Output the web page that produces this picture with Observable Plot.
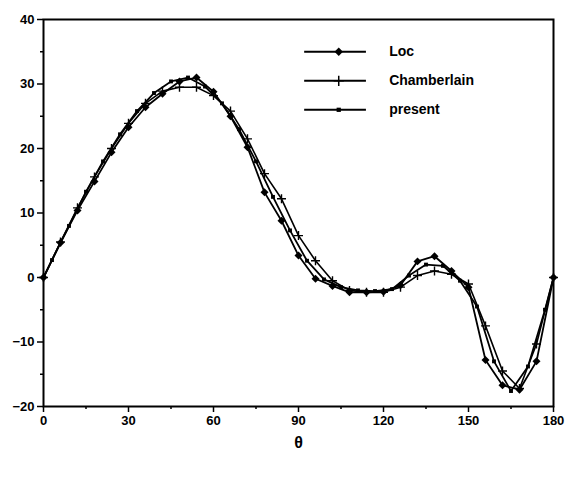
<!DOCTYPE html>
<html><head><meta charset="utf-8">
<script src="https://cdn.jsdelivr.net/npm/d3@7"></script>
<script src="https://cdn.jsdelivr.net/npm/@observablehq/plot@0.6"></script>
<style>
body{margin:0;background:#fff;}
#chart{width:568px;height:483px;}
</style></head><body><div id="chart"></div>
<script>
const seriesNames = ["Loc", "Chamberlain", "present"];
const axisTitle = "θ";

const locTheta = [0,6,12,18,24,30,36,42,48,54,60,66,72,78,84,90,96,102,108,114,120,126,132,138,144,150,156,162,168,174,180];
const locValues = [0,5.4,10.4,14.9,19.4,23.3,26.4,28.5,30.4,31.0,28.8,25.0,20.2,13.2,8.8,3.4,-0.2,-1.3,-2.3,-2.3,-2.2,-1.2,2.5,3.3,1.0,-1.5,-12.8,-16.7,-17.4,-13.0,0];

const chamTheta = [0,6,12,18,24,30,36,42,48,54,60,66,72,78,84,90,96,102,108,114,120,126,132,138,144,150,156,162,168,174,180];
const chamValues = [0,5.5,10.8,15.6,20.0,23.9,27.0,28.9,29.5,29.5,28.2,25.8,21.5,16.1,12.2,6.5,2.6,-0.5,-2.0,-2.3,-2.3,-1.5,0.3,1.0,0.5,-1.0,-7.5,-14.5,-17.2,-10.3,0];

const presTheta = [0,3,9,15,21,27,33,39,45,51,57,63,69,75,81,87,93,99,105,111,117,123,129,135,141,147,153,159,165,171,177,180];
const presValues = [0,2.7,8.0,13.3,18.0,22.2,25.8,28.6,30.4,31.0,29.6,27.0,23.0,18.0,12.5,7.3,2.6,-0.3,-1.5,-2.0,-2.1,-1.8,0.3,2.0,1.8,-0.5,-4.5,-13.0,-17.6,-13.8,-5.0,0];

const xTicks = [0,30,60,90,120,150,180];
const xMinor = [15,45,75,105,135,165];
const yTicks = [-20,-10,0,10,20,30,40];
const yMinor = [-15,-5,5,15,25,35];

const loc = locTheta.map((t,i)=>({theta:t, value:locValues[i]}));
const cham = chamTheta.map((t,i)=>({theta:t, value:chamValues[i]}));
const pres = presTheta.map((t,i)=>({theta:t, value:presValues[i]}));

const legend = seriesNames.map((name,i)=>({name, i}));
const legY = d => 35 - d.i*4.5;

const plot = Plot.plot({
  width: 568, height: 460,
  marginLeft: 43, marginRight: 15, marginTop: 19, marginBottom: 54,
  x: {domain: [0,180]},
  y: {domain: [-20,40]},
  style: {fontFamily: "'Liberation Sans', Arial, sans-serif", fontWeight: "bold", fontSize: "13px", color: "black", background: "white"},
  marks: [
    Plot.axisX({ticks: xTicks, tickSize: 6, tickPadding: 3, strokeWidth: 1.5, fontSize: 13, label: null}),
    Plot.axisX({ticks: xMinor, tickSize: 3, strokeWidth: 1.5, text: null, label: null}),
    Plot.axisY({ticks: yTicks, tickSize: 6, tickPadding: 3, strokeWidth: 1.5, fontSize: 13, label: null}),
    Plot.axisY({ticks: yMinor, tickSize: 3, strokeWidth: 1.5, text: null, label: null}),
    Plot.text([axisTitle], {frameAnchor: "bottom", dy: 36, text: d => d, fontSize: 16, fontWeight: "bold", fill: "black", lineAnchor: "middle"}),
    Plot.frame({stroke: "black", strokeWidth: 2}),
    Plot.line(loc, {x: "theta", y: "value", stroke: "black", strokeWidth: 1.8}),
    Plot.line(cham, {x: "theta", y: "value", stroke: "black", strokeWidth: 1.6}),
    Plot.line(pres, {x: "theta", y: "value", stroke: "black", strokeWidth: 1.8}),
    Plot.dot(loc, {x: "theta", y: "value", symbol: "diamond2", r: 3.6, fill: "black"}),
    Plot.dot(cham, {x: "theta", y: "value", symbol: "plus", r: 3.0, stroke: "black", strokeWidth: 1.4}),
    Plot.dot(pres, {x: "theta", y: "value", symbol: "square", r: 2.2, fill: "black"}),
    // legend
    Plot.link(legend, {x1: () => 92, x2: () => 113.8, y1: legY, y2: legY, stroke: "black", strokeWidth: 2}),
    Plot.dot(legend.filter(d=>d.i===0), {x: () => 104.2, y: legY, symbol: "diamond2", r: 3.8, fill: "black"}),
    Plot.dot(legend.filter(d=>d.i===1), {x: () => 104.2, y: legY, symbol: "plus", r: 3.4, stroke: "black", strokeWidth: 1.5}),
    Plot.dot(legend.filter(d=>d.i===2), {x: () => 104.2, y: legY, symbol: "square", r: 2.4, fill: "black"}),
    Plot.text(legend, {x: () => 122, y: legY, text: "name", textAnchor: "start", fontSize: 14, fontWeight: "bold", fill: "black"})
  ]
});
document.getElementById("chart").appendChild(plot);
</script>
</body></html>
